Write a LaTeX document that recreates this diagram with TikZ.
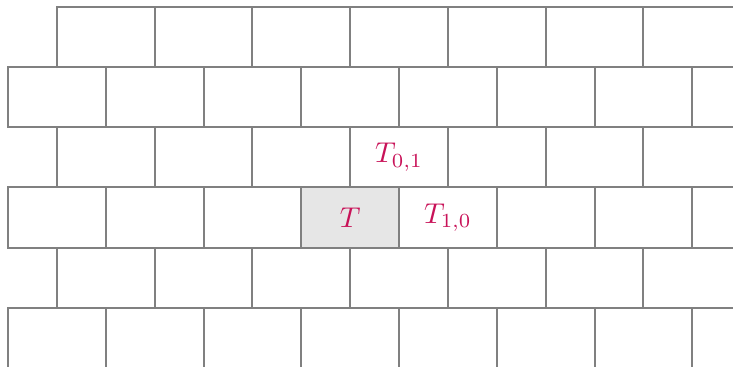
\documentclass[tikz,border=0pt]{standalone}
\usepackage{tikz}
\definecolor{edge}{RGB}{128,128,128}
\definecolor{mark}{RGB}{200,18,88}
\definecolor{hilite}{RGB}{230,230,230}

\begin{document}
\begin{tikzpicture}[x=1cm,y=1cm,
  brick/.style={draw=edge,line width=0.7pt,minimum width=1.2cm,minimum height=0.74cm,inner sep=0pt,outer sep=0pt},
  cur/.style={brick,fill=hilite},
  lbl/.style={text=mark}]
  \useasboundingbox (0,0) rectangle (9,4.5);
  \clip (0,0) rectangle (9,4.5);
  % rows from the bottom, odd rows shifted by half a brick
  \foreach \r in {0,...,5}{
    \pgfmathsetmacro{\xo}{mod(\r,2)==1 ? 0.7 : 0.1}
    \foreach \c in {0,...,7}{
      \node[brick] (b-\r-\c) at ({\xo+0.6+1.2*\c},{0.35+0.74*\r}) {};
    }
  }
  \node[cur,lbl] (t) at (b-2-3) {$T$};
  \node[lbl] (t10) at (b-2-4) {$T_{1,0}$};
  \node[lbl] (t01) at (b-3-3) {$T_{0,1}$};
\end{tikzpicture}
\end{document}
